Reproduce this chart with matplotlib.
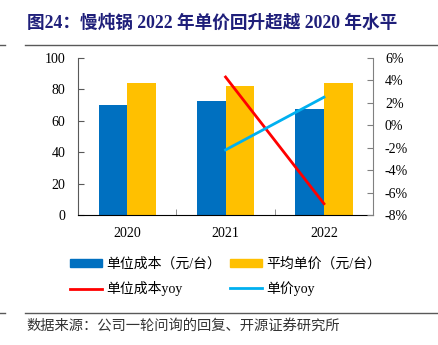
import numpy as np
import matplotlib
matplotlib.use("Agg")
import matplotlib.pyplot as plt
from matplotlib.patches import Patch
from matplotlib.lines import Line2D
from matplotlib.ticker import FuncFormatter

plt.rcParams['font.family'] = ['Liberation Serif', 'Noto Sans CJK SC']
plt.rcParams['axes.unicode_minus'] = False

# data
years = ['2020', '2021', '2022']
unit_cost = [70.0, 72.8, 67.7]        # 单位成本（元/台）
avg_price = [84.0, 82.4, 84.3]        # 平均单价（元/台）
yoy_years = [1, 2]                    # index of 2021, 2022
cost_yoy = [4.3, -7.0]                # 单位成本yoy (%)
price_yoy = [-2.2, 2.5]               # 单价yoy (%)

fig = plt.figure(figsize=(4.38, 3.45), dpi=100)
ax = fig.add_axes([0.178, 0.377, 0.674, 0.455])
ax2 = ax.twinx()

x = np.arange(len(years))
w = 0.29
ax.bar(x - w / 2, unit_cost, w, color='#0070C0', zorder=2)
ax.bar(x + w / 2, avg_price, w, color='#FFC000', zorder=2)
ax.set_xlim(-0.5, 2.5)
ax.set_ylim(0, 100)
ax.set_yticks(range(0, 101, 20))
ax.set_xticks(x)
ax.set_xticklabels(years)
ax.set_xticks([0.5, 1.5], minor=True)
ax.tick_params(axis='x', which='major', length=0, labelsize=10, pad=9)
ax.tick_params(axis='x', which='minor', length=4, direction='in', color='#808080')
ax.tick_params(axis='y', direction='in', length=4, labelsize=10, color='#595959', pad=9)
ax.spines['top'].set_visible(False)
ax.spines['right'].set_visible(False)
ax.spines['left'].set_color('#595959')

ax2.plot(yoy_years, cost_yoy, color='#FF0000', lw=2)
ax2.plot(yoy_years, price_yoy, color='#00B0F0', lw=2)
ax2.set_ylim(-8, 6)
ax2.set_yticks(range(-8, 7, 2))
ax2.yaxis.set_major_formatter(FuncFormatter(lambda v, p: f'{int(v)}%'))
ax2.tick_params(axis='y', direction='in', length=4, labelsize=10, color='#808080', pad=8.5)
for s in ['top', 'left', 'bottom']:
    ax2.spines[s].set_visible(False)
ax2.spines['right'].set_color('#808080')

# column-wise order so rows read: bars, then lines
handles = [Patch(color='#0070C0'), Line2D([], [], color='#FF0000', lw=2),
           Patch(color='#FFC000'), Line2D([], [], color='#00B0F0', lw=2)]
labels = ['单位成本（元/台）', '单位成本yoy', '平均单价（元/台）', '单价yoy']
leg = fig.legend(handles, labels, ncol=2, loc='center', bbox_to_anchor=(0.515, 0.198),
                 frameon=False, fontsize=10, handlelength=2.3, handleheight=0.55,
                 columnspacing=0.7, labelspacing=0.75, handletextpad=0.3)

fig.text(0.062, 0.933, '图24：慢炖锅 2022 年单价回升超越 2020 年水平', fontsize=12.7,
         fontweight='bold', color='#1F1F7A', va='center', ha='left')
fig.add_artist(Line2D([0.057, 1.0], [0.87, 0.87], color='#595959', lw=1))
fig.add_artist(Line2D([0.0, 0.012], [0.87, 0.87], color='#595959', lw=1))
fig.add_artist(Line2D([0.057, 1.0], [0.093, 0.093], color='#595959', lw=1))
fig.add_artist(Line2D([0.0, 0.012], [0.093, 0.093], color='#595959', lw=1))
fig.text(0.06, 0.055, '数据来源：公司一轮问询的回复、开源证券研究所', fontsize=10.3,
         color='#333333', va='center', ha='left')

fig.savefig('out.png', dpi=100)
